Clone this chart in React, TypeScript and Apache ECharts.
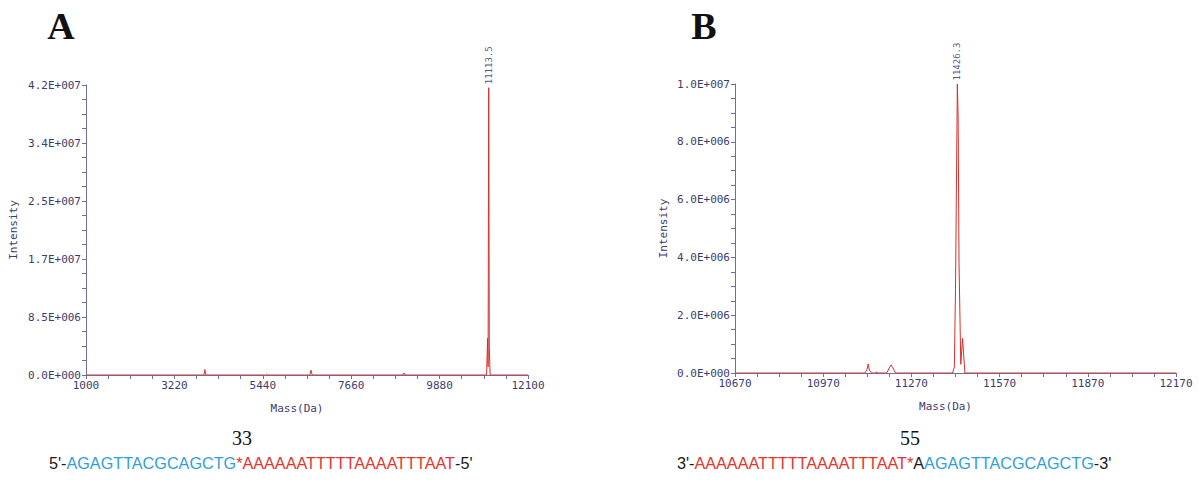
import React, { useEffect, useRef } from "react";
import * as echarts from "echarts";

// ---- Panel A data ----
const massA = [1000, 3960, 3985, 4010, 5510, 5537, 5565, 6620, 6650, 6680, 8960, 8986, 9015, 11060, 11085, 11098, 11113.5, 11128, 11150, 12100];
const intensityA = [0, 0, 8e5, 0, 0, 1.5e5, 0, 0, 7e5, 0, 0, 3e5, 0, 0, 5.4e6, 1.2e6, 4.2e7, 4.0e6, 0, 0];
const peakA = [11113.5, 4.2e7];
const peakLabelA = "11113.5";
const xTickLabelsA = [1000, 3220, 5440, 7660, 9880, 12100];
const yMaxA = 4.24e7;
const yIntervalA = 8.48e6;

// ---- Panel B data ----
const massB = [10670, 11112, 11119, 11123, 11127, 11134, 11150, 11152, 11155, 11186, 11195, 11201, 11207, 11216, 11410, 11416, 11420, 11426.3, 11429, 11432, 11438, 11444, 11452, 12170];
const intensityB = [0, 0, 1.2e5, 3.1e5, 1.0e5, 0, 0, 4e4, 0, 0, 1.8e5, 2.8e5, 1.8e5, 0, 0, 2e5, 2.9e6, 1.0e7, 8.8e6, 3.8e6, 3e5, 1.2e6, 0, 0];
const peakB = [11426.3, 1.0e7];
const peakLabelB = "11426.3";
const xTickLabelsB = [10670, 10970, 11270, 11570, 11870, 12170];
const yMaxB = 1.0e7;
const yIntervalB = 2.0e6;

// ---- Texts ----
const panelTitles = ["A", "B"];
const sampleNames = ["33", "55"];
const seqA = ["5'-", "AGAGTTACGCAGCTG", "*AAAAAATTTTTAAAATTTAAT", "-5'"];
const seqB = ["3'-", "AAAAAATTTTTAAAATTTAAT*", "A", "AGAGTTACGCAGCTG", "-3'"];

const AXIS_COLOR = "#6e6ea2";
const LABEL_COLOR = "#3d3d6d";
const LINE_COLOR = "#d6302b";
const MONO = "'DejaVu Sans Mono', monospace";

function sciFmt(v: number): string {
  if (v === 0) return "0.0E+000";
  const e = Math.floor(Math.log10(v) + 1e-9);
  const m = v / Math.pow(10, e);
  return m.toFixed(1) + "E+" + String(e).padStart(3, "0");
}

function subTicks(labels: number[], n: number): number[] {
  const out: number[] = [];
  for (let i = 0; i < labels.length - 1; i++) {
    const step = (labels[i + 1] - labels[i]) / n;
    for (let k = 0; k < n; k++) out.push(labels[i] + step * k);
  }
  out.push(labels[labels.length - 1]);
  return out;
}

function zip(a: number[], b: number[]) {
  return a.map((v, i) => [v, b[i]]);
}

function xAxisCfg(gridIndex: number, labels: number[]) {
  return {
    type: "value",
    gridIndex,
    min: labels[0],
    max: labels[labels.length - 1],
    name: "Mass(Da)",
    nameLocation: "middle",
    nameGap: 28,
    nameTextStyle: { fontFamily: MONO, fontSize: 11, color: LABEL_COLOR, padding: [0, 20, 0, 0] },
    axisLine: { show: true, lineStyle: { color: AXIS_COLOR, width: 1 } },
    axisTick: { show: true, customValues: subTicks(labels, 4), length: 4, lineStyle: { color: AXIS_COLOR } },
    axisLabel: {
      customValues: labels,
      fontFamily: MONO,
      fontSize: 11,
      color: LABEL_COLOR,
      margin: 5,
      formatter: (v: number) => String(Math.round(v)),
    },
    splitLine: { show: false },
  };
}

function yAxisCfg(gridIndex: number, max: number, interval: number, gap: number) {
  return {
    type: "value",
    gridIndex,
    min: 0,
    max,
    interval,
    name: "Intensity",
    nameLocation: "middle",
    nameRotate: 90,
    nameGap: gap,
    nameTextStyle: { fontFamily: MONO, fontSize: 11, color: LABEL_COLOR },
    axisLine: { show: true, lineStyle: { color: AXIS_COLOR, width: 1 } },
    axisTick: { show: true, length: 4, lineStyle: { color: AXIS_COLOR } },
    minorTick: { show: true, splitNumber: 4, length: 4, lineStyle: { color: AXIS_COLOR } },
    axisLabel: { fontFamily: MONO, fontSize: 11, color: LABEL_COLOR, margin: 5, formatter: sciFmt },
    splitLine: { show: false },
    minorSplitLine: { show: false },
  };
}

function lineSeries(idx: number, data: number[][]) {
  return {
    type: "line",
    xAxisIndex: idx,
    yAxisIndex: idx,
    data,
    showSymbol: false,
    symbol: "none",
    lineStyle: { color: LINE_COLOR, width: 1 },
    z: 3,
  };
}

function labelSeries(idx: number, point: number[], text: string) {
  return {
    type: "scatter",
    xAxisIndex: idx,
    yAxisIndex: idx,
    data: [point],
    symbolSize: 1,
    itemStyle: { color: "rgba(0,0,0,0)" },
    label: {
      show: true,
      position: "top",
      distance: 3,
      rotate: 90,
      align: "left",
      verticalAlign: "middle",
      formatter: text,
      fontFamily: MONO,
      fontSize: 9,
      color: "#2a2a5a",
    },
    silent: true,
    z: 4,
  };
}

export default function App() {
  const ref = useRef<HTMLDivElement>(null);
  useEffect(() => {
    document.body.style.margin = "0";
    if (!ref.current) return;
    const chart = echarts.init(ref.current, null, { renderer: "svg" });
    const black = "#1a1a1a";
    const blue = "#2f9fd8";
    const red = "#e5352e";
    const seqFont = "16.2px 'Liberation Sans', Arial, sans-serif";
    chart.setOption({
      animation: false,
      backgroundColor: "#ffffff",
      grid: [
        { left: 86, right: 671, top: 85, bottom: 113, containLabel: false },
        { left: 735, right: 23, top: 84, bottom: 115, containLabel: false },
      ],
      xAxis: [xAxisCfg(0, xTickLabelsA), xAxisCfg(1, xTickLabelsB)],
      yAxis: [yAxisCfg(0, yMaxA, yIntervalA, 67), yAxisCfg(1, yMaxB, yIntervalB, 66)],
      series: [
        lineSeries(0, zip(massA, intensityA)),
        lineSeries(1, zip(massB, intensityB)),
        labelSeries(0, peakA, peakLabelA),
        labelSeries(1, peakB, peakLabelB),
      ],
      graphic: [
        {
          type: "text",
          x: 61,
          y: 26,
          style: { text: panelTitles[0], font: "bold 38px 'Liberation Serif', serif", fill: "#111", textAlign: "center", textVerticalAlign: "middle" },
        },
        {
          type: "text",
          x: 704,
          y: 26,
          style: { text: panelTitles[1], font: "bold 38px 'Liberation Serif', serif", fill: "#111", textAlign: "center", textVerticalAlign: "middle" },
        },
        {
          type: "text",
          x: 242,
          y: 438,
          style: { text: sampleNames[0], font: "20px 'Liberation Serif', serif", fill: "#111", textAlign: "center", textVerticalAlign: "middle" },
        },
        {
          type: "text",
          x: 910,
          y: 438,
          style: { text: sampleNames[1], font: "20px 'Liberation Serif', serif", fill: "#111", textAlign: "center", textVerticalAlign: "middle" },
        },
        {
          type: "text",
          x: 49,
          y: 463,
          style: {
            text: `{k|${seqA[0]}}{b|${seqA[1]}}{r|${seqA[2]}}{k|${seqA[3]}}`,
            font: seqFont,
            textAlign: "left",
            textVerticalAlign: "middle",
            rich: {
              k: { fill: black, font: seqFont },
              b: { fill: blue, font: seqFont },
              r: { fill: red, font: seqFont },
            },
          },
        },
        {
          type: "text",
          x: 677,
          y: 463,
          style: {
            text: `{k|${seqB[0]}}{r|${seqB[1]}}{k|${seqB[2]}}{b|${seqB[3]}}{k|${seqB[4]}}`,
            font: seqFont,
            textAlign: "left",
            textVerticalAlign: "middle",
            rich: {
              k: { fill: black, font: seqFont },
              b: { fill: blue, font: seqFont },
              r: { fill: red, font: seqFont },
            },
          },
        },
      ],
    });
    return () => chart.dispose();
  }, []);
  return <div ref={ref} style={{ width: 1199, height: 488 }} />;
}
